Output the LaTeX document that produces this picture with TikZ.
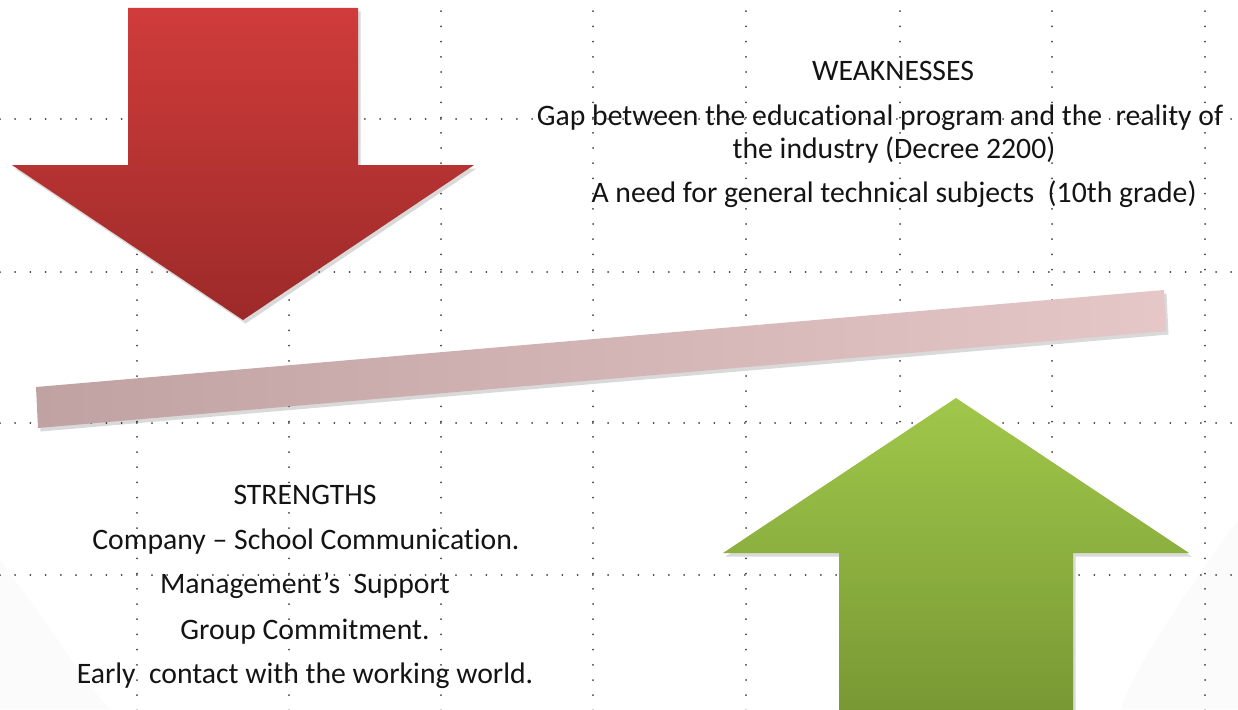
\documentclass[tikz,border=0pt]{standalone}
\usepackage{fontspec}
\setmainfont{Carlito}[Ligatures=NoCommon]
\usetikzlibrary{shadows}

\definecolor{rougeHaut}{RGB}{207,60,59}
\definecolor{rougeBas}{RGB}{156,42,41}
\definecolor{vertHaut}{RGB}{160,199,74}
\definecolor{vertBas}{RGB}{120,152,52}
\definecolor{roseG}{RGB}{192,162,163}
\definecolor{roseD}{RGB}{230,199,200}
\definecolor{texte}{RGB}{20,20,20}

\tikzset{
  grille/.style={line width=2pt, line cap=round, dash pattern=on 0pt off 15.2pt, black!75},
  ombre/.style={drop shadow={shadow xshift=2.5pt, shadow yshift=-3.5pt, opacity=.15, fill=black}},
  ligne/.style={anchor=base, text=texte, font=\fontsize{29.7}{34}\selectfont}
}

\begin{document}
\begin{tikzpicture}[x=1pt, y=-1pt, line join=miter]

    \useasboundingbox (0,0) rectangle (1238,709);
    \fill[white] (0,0) rectangle (1238,709);

    % fond gris tres leger dans les coins
    \fill[black!1.5] (0,560) .. controls (60,640) and (90,690) .. (110,709) -- (0,709) -- cycle;
    \fill[black!1.5] (1238,520) .. controls (1180,600) and (1140,660) .. (1120,709) -- (1238,709) -- cycle;

    % grille pointillee
    \foreach \x in {137,289,441,593,746,900,1052,1205}
        \draw[grille] (\x,-4) -- (\x,712);
    \foreach \y in {119,272,423,575}
        \draw[grille] (0,\y) -- (1238,\y);

    % Fleche rouge (vers le bas)
    \coordinate (R1) at (128,8);
    \coordinate (R2) at (358,8);
    \coordinate (R3) at (358,165);
    \coordinate (R4) at (474,165);
    \coordinate (R5) at (243,320); % pointe
    \coordinate (R6) at (12,165);
    \coordinate (R7) at (128,165);
    \shade[ombre, top color=rougeHaut, bottom color=rougeBas]
        (R1) -- (R2) -- (R3) -- (R4) -- (R5) -- (R6) -- (R7) -- cycle;

    % Barre inclinee
    \coordinate (B1) at (36,387);
    \coordinate (B2) at (1164,290);
    \coordinate (B3) at (1166,331);
    \coordinate (B4) at (38,428);
    \shade[ombre, left color=roseG, right color=roseD]
        (B1) -- (B2) -- (B3) -- (B4) -- cycle;

    % Fleche verte (vers le haut)
    \coordinate (V1) at (956,398); % pointe
    \coordinate (V2) at (1189,553);
    \coordinate (V3) at (1073,553);
    \coordinate (V4) at (1073,712);
    \coordinate (V5) at (839,712);
    \coordinate (V6) at (839,553);
    \coordinate (V7) at (723,553);
    \shade[ombre, top color=vertHaut, bottom color=vertBas]
        (V1) -- (V2) -- (V3) -- (V4) -- (V5) -- (V6) -- (V7) -- cycle;

    % Faiblesses
    \node[ligne] (faible) at (893,80) {WEAKNESSES};
    \node[ligne] (faible1) at (880,125) {Gap between the educational program and the\ \ reality of};
    \node[ligne] (faible2) at (894,158) {the industry (Decree 2200)};
    \node[ligne] (faible3) at (894,202) {A need for general technical subjects\ \ (10th grade)};

    % Forces
    \node[ligne] (force) at (305,504) {STRENGTHS};
    \node[ligne] (force1) at (306,549) {Company -- School Communication.};
    \node[ligne] (force2) at (305,593) {Management’s\ \ Support};
    \node[ligne] (force3) at (305,639) {Group Commitment.};
    \node[ligne] (force4) at (305,683) {Early\ \ contact with the working world.};

\end{tikzpicture}
\end{document}
